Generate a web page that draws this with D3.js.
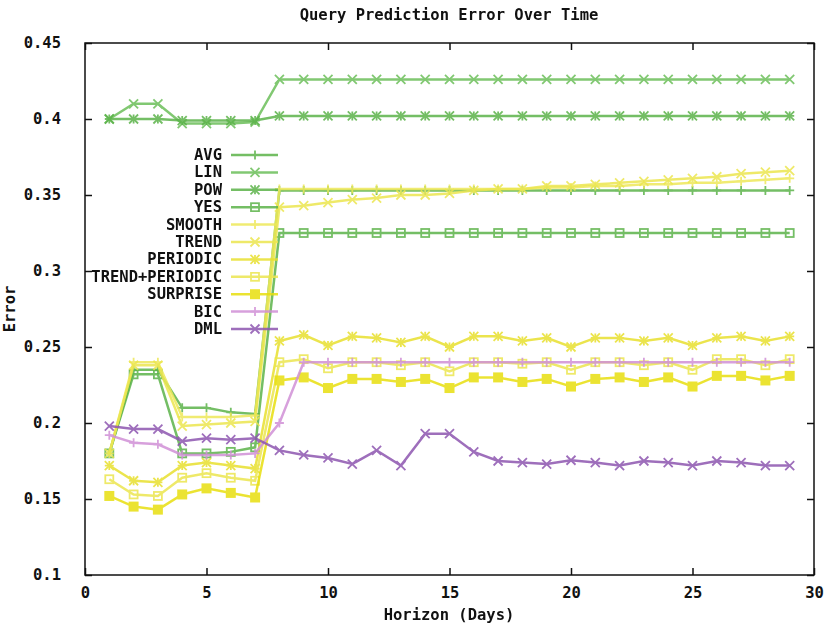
<!doctype html>
<html>
  <head>
    <style>
      body { margin: 0; background: white; }
      text { font-family: 'DejaVu Sans Mono', monospace; font-weight: bold; font-size: 15.5px; fill: #111; }
    </style>
    <script src="https://d3js.org/d3.v7.min.js"></script>
  </head>
  <body>
    <svg id="chart" width="827" height="627"></svg>
    <script>
      // horizon in days
      var days = [1,2,3,4,5,6,7,8,9,10,11,12,13,14,15,16,17,18,19,20,21,22,23,24,25,26,27,28,29];

      var avg = [0.18,0.235,0.235,0.21,0.21,0.207,0.206,
        0.353,0.353,0.353,0.353,0.353,0.353,0.353,0.353,0.353,0.353,0.353,
        0.353,0.353,0.353,0.353,0.353,0.353,0.353,0.353,0.353,0.353,0.353];
      var lin = [0.4,0.41,0.41,0.397,0.397,0.397,0.398,
        0.426,0.426,0.426,0.426,0.426,0.426,0.426,0.426,0.426,0.426,0.426,
        0.426,0.426,0.426,0.426,0.426,0.426,0.426,0.426,0.426,0.426,0.426];
      var pow = [0.4,0.4,0.4,0.399,0.399,0.399,0.399,
        0.402,0.402,0.402,0.402,0.402,0.402,0.402,0.402,0.402,0.402,0.402,
        0.402,0.402,0.402,0.402,0.402,0.402,0.402,0.402,0.402,0.402,0.402];
      var yes = [0.18,0.232,0.232,0.18,0.18,0.181,0.184,
        0.325,0.325,0.325,0.325,0.325,0.325,0.325,0.325,0.325,0.325,0.325,
        0.325,0.325,0.325,0.325,0.325,0.325,0.325,0.325,0.325,0.325,0.325];
      var smooth = [0.18,0.24,0.24,0.204,0.204,0.204,0.205,
        0.354,0.354,0.354,0.354,0.354,0.354,0.354,0.354,0.354,0.354,0.354,
        0.355,0.355,0.356,0.356,0.357,0.357,0.358,0.358,0.359,0.36,0.361];
      var trend = [0.18,0.238,0.238,0.198,0.199,0.2,0.201,
        0.342,0.343,0.345,0.347,0.348,0.35,0.35,0.351,0.353,0.354,0.354,
        0.356,0.356,0.357,0.358,0.359,0.36,0.361,0.362,0.364,0.365,0.366];
      var periodic = [0.172,0.162,0.161,0.172,0.174,0.172,0.17,
        0.254,0.258,0.251,0.257,0.256,0.253,0.257,0.25,0.257,0.257,0.254,
        0.256,0.25,0.256,0.256,0.254,0.256,0.251,0.256,0.257,0.254,0.257];
      var trendPeriodic = [0.163,0.153,0.152,0.164,0.167,0.164,0.162,
        0.24,0.242,0.236,0.24,0.24,0.238,0.24,0.234,0.24,0.24,0.239,
        0.24,0.235,0.24,0.24,0.238,0.24,0.235,0.242,0.242,0.238,0.242];
      var surprise = [0.152,0.145,0.143,0.153,0.157,0.154,0.151,
        0.228,0.23,0.223,0.229,0.229,0.227,0.229,0.223,0.23,0.23,0.227,
        0.229,0.224,0.229,0.23,0.227,0.23,0.224,0.231,0.231,0.228,0.231];
      var bic = [0.192,0.187,0.186,0.179,0.179,0.179,0.18,
        0.2,0.24,0.24,0.24,0.24,0.24,0.24,0.24,0.24,0.24,0.24,
        0.24,0.24,0.24,0.24,0.24,0.24,0.24,0.24,0.24,0.24,0.24];
      var dml = [0.198,0.196,0.196,0.188,0.19,0.189,0.19,
        0.182,0.179,0.177,0.173,0.182,0.172,0.193,0.193,0.181,0.175,0.174,
        0.173,0.1755,0.174,0.172,0.175,0.174,0.172,0.175,0.174,0.172,0.172];

      var seriesNames = ["AVG","LIN","POW","YES","SMOOTH","TREND","PERIODIC","TREND+PERIODIC","SURPRISE","BIC","DML"];
      var seriesValues = [avg, lin, pow, yes, smooth, trend, periodic, trendPeriodic, surprise, bic, dml];
      var seriesColors = ["#5cb34a","#6cbf5a","#5cb34a","#5cb34a","#eee85a","#ece650","#e8e030","#ece650","#e8df10","#d090d6","#8d55b0"];
      var seriesMarks = ["plus","cross","star","square","plus","cross","star","square","fsquare","plus","cross"];

      var xTicks = [0,5,10,15,20,25,30];
      var yTicks = [0.1,0.15,0.2,0.25,0.3,0.35,0.4,0.45];

      var svg = d3.select("#chart"),
        plotLeft = 85, plotRight = 814, plotTop = 43, plotBottom = 575;

      var x = d3.scaleLinear().domain([0,30]).range([plotLeft,plotRight]);
      var y = d3.scaleLinear().domain([0.1,0.45]).range([plotBottom,plotTop]);

      // soft edges like the scanned original
      svg.append("defs").append("filter").attr("id", "soft")
        .append("feGaussianBlur").attr("stdDeviation", 0.6);

      // draw a point marker
      function mark(g, type, cx, cy, color) {
        var s = 4.5;
        if (type == "plus" || type == "star") {
          g.append("path").attr("d", "M"+(cx-s)+","+cy+"H"+(cx+s)+"M"+cx+","+(cy-s)+"V"+(cy+s))
            .attr("stroke", color).attr("stroke-width", 1.8);
        }
        if (type == "cross" || type == "star") {
          g.append("path").attr("d", "M"+(cx-s)+","+(cy-s)+"L"+(cx+s)+","+(cy+s)+"M"+(cx-s)+","+(cy+s)+"L"+(cx+s)+","+(cy-s))
            .attr("stroke", color).attr("stroke-width", 1.8);
        }
        if (type == "square") {
          g.append("rect").attr("x", cx-4).attr("y", cy-4).attr("width", 8).attr("height", 8)
            .attr("fill", "none").attr("stroke", color).attr("stroke-width", 1.8);
        }
        if (type == "fsquare") {
          g.append("rect").attr("x", cx-5).attr("y", cy-5).attr("width", 10).attr("height", 10)
            .attr("fill", color);
        }
      }

      var line = d3.line().x(function(d){ return x(d[0]); }).y(function(d){ return y(d[1]); });

      var plot = svg.append("g").attr("filter", "url(#soft)");
      seriesValues.forEach(function(vals, i) {
        var pts = days.map(function(d, j){ return [d, vals[j]]; });
        var g = plot.append("g").attr("opacity", 0.85);
        g.append("path").attr("d", line(pts)).attr("fill", "none")
          .attr("stroke", seriesColors[i]).attr("stroke-width", 2.5);
        pts.forEach(function(p){ mark(g, seriesMarks[i], x(p[0]), y(p[1]), seriesColors[i]); });
      });

      // axes, gnuplot style with inward ticks on all four sides
      svg.append("g").attr("transform", "translate(0," + plotBottom + ")")
        .call(d3.axisBottom(x).tickValues(xTicks).tickSizeInner(-7).tickSizeOuter(0).tickPadding(12));
      svg.append("g").attr("transform", "translate(0," + plotTop + ")")
        .call(d3.axisTop(x).tickValues(xTicks).tickSizeInner(-7).tickSizeOuter(0).tickFormat(""));
      svg.append("g").attr("transform", "translate(" + plotLeft + ",0)")
        .call(d3.axisLeft(y).tickValues(yTicks).tickSizeInner(-7).tickSizeOuter(0).tickPadding(24)
              .tickFormat(function(d){ return String(+d.toFixed(2)); }));
      svg.append("g").attr("transform", "translate(" + plotRight + ",0)")
        .call(d3.axisRight(y).tickValues(yTicks).tickSizeInner(-7).tickSizeOuter(0).tickFormat(""));
      svg.selectAll(".domain").remove();
      svg.selectAll(".tick line").attr("stroke", "#111").attr("stroke-width", 1.5);
      svg.selectAll(".tick text").style("font-size", "15.5px").style("font-family", "'DejaVu Sans Mono', monospace").style("font-weight", "bold");

      svg.append("rect").attr("x", plotLeft).attr("y", plotTop).attr("width", plotRight-plotLeft).attr("height", plotBottom-plotTop)
        .attr("fill", "none").attr("stroke", "#111").attr("stroke-width", 1.5);

      // legend
      var leg = svg.append("g");
      seriesNames.forEach(function(name, i) {
        var ly = 155 + i*17.4;
        leg.append("text").attr("x", 222).attr("y", ly + 5).attr("text-anchor", "end").text(name);
        var g = leg.append("g").attr("opacity", 0.85).attr("filter", "url(#soft)");
        g.append("line").attr("x1", 231).attr("x2", 278).attr("y1", ly).attr("y2", ly)
          .attr("stroke", seriesColors[i]).attr("stroke-width", 2.5);
        mark(g, seriesMarks[i], 255, ly, seriesColors[i]);
      });

      svg.append("text").attr("x", 449).attr("y", 20).attr("text-anchor", "middle").text("Query Prediction Error Over Time");
      svg.append("text").attr("x", 449).attr("y", 620).attr("text-anchor", "middle").text("Horizon (Days)");
      svg.append("text").attr("transform", "translate(15,309) rotate(-90)").attr("text-anchor", "middle").text("Error");
    </script>
  </body>
</html>
